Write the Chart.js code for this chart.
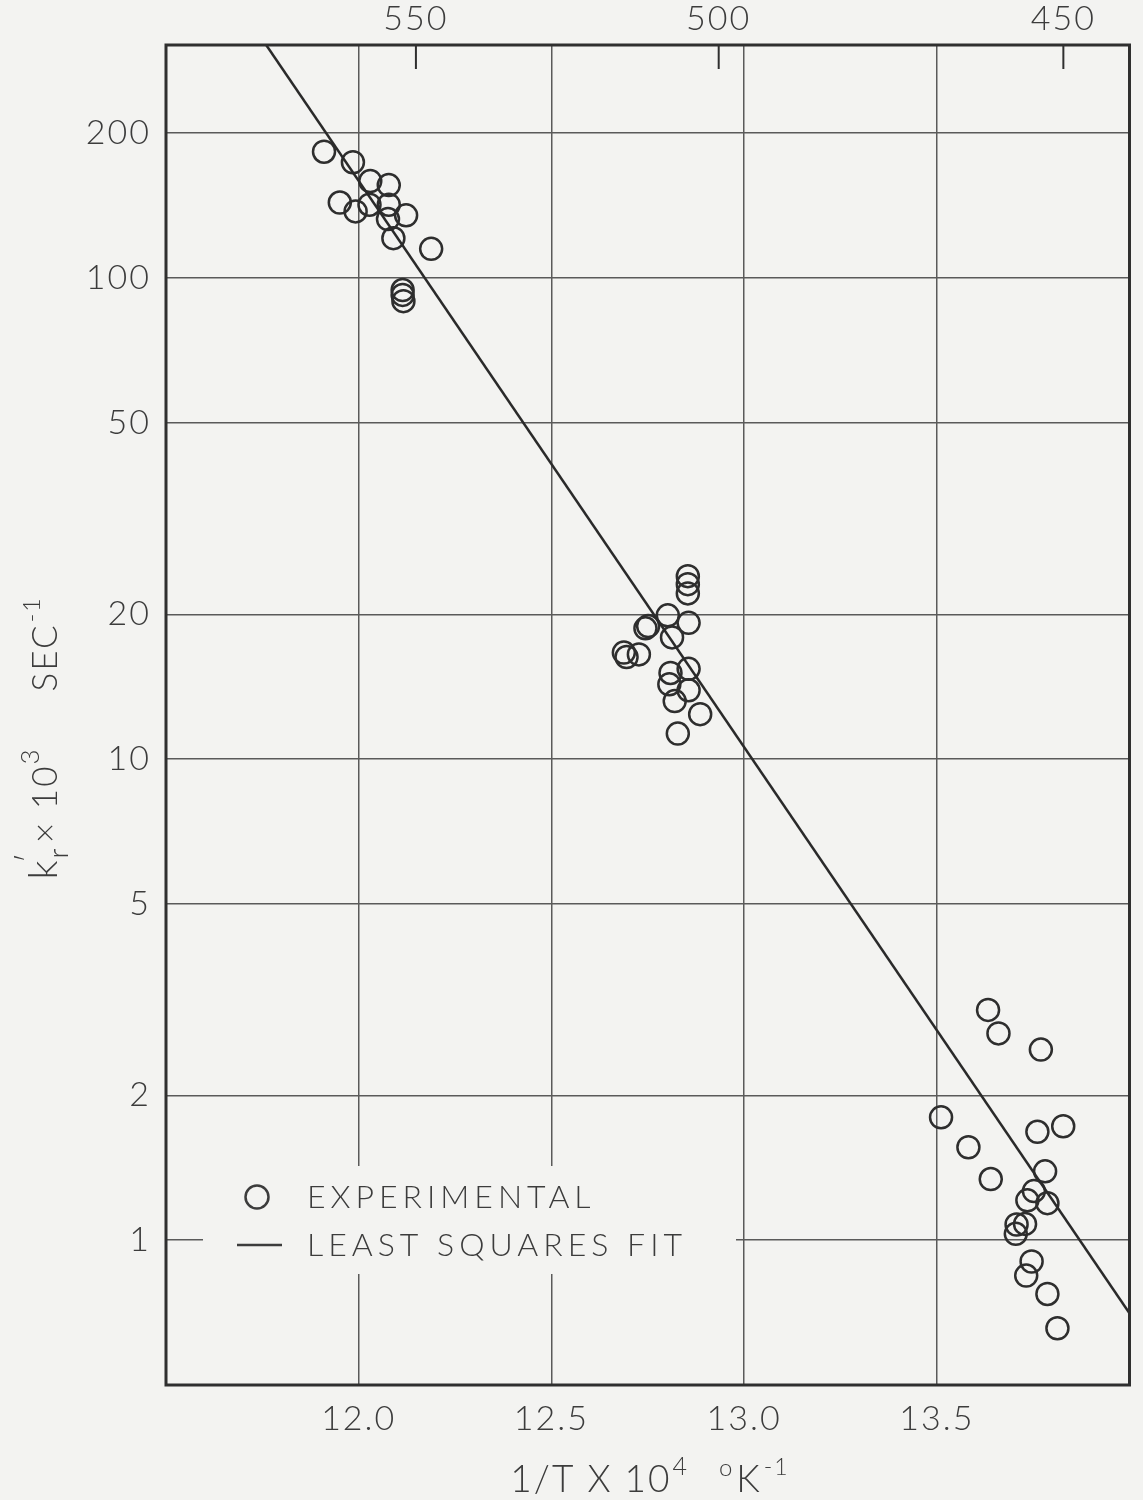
<!DOCTYPE html>
<html>
<head>
<meta charset="utf-8">
<script src="https://cdn.jsdelivr.net/npm/chart.js@4.4.1/dist/chart.umd.min.js"></script>
<style>
  html, body { margin: 0; padding: 0; background: #f3f3f1; }
  #wrap { width: 1143px; height: 1500px; }
</style>
</head>
<body>
<div id="wrap"><canvas id="arrhenius" width="1143" height="1500"></canvas></div>
<script>
// experimental points: 1/T x 10^4 and k'r x 10^3 (sec^-1)
const expX = [
    11.910, 11.985, 12.030, 12.078, 11.951, 11.992, 12.028, 12.078, 12.076, 12.123, 12.090, 12.188, 12.114, 12.114, 12.116,
    12.854, 12.854, 12.854, 12.802, 12.856, 12.751, 12.744, 12.813, 12.688, 12.695, 12.727, 12.809, 12.856, 12.806, 12.856, 12.820, 12.886, 12.828,
    13.633, 13.660, 13.770, 13.511, 13.582, 13.640, 13.761, 13.828, 13.781, 13.752, 13.735, 13.787, 13.707, 13.729, 13.705, 13.746, 13.732, 13.787, 13.813
];
const expY = [
    183, 174, 159, 156, 143.5, 137.5, 142, 142, 132.6, 135, 121, 115, 94.4, 92.2, 89.5,
    24.0, 23.1, 22.1, 19.9, 19.2, 18.9, 18.7, 17.9, 16.65, 16.3, 16.5, 15.1, 15.4, 14.3, 13.9, 13.2, 12.4, 11.3,
    3.01, 2.69, 2.49, 1.80, 1.56, 1.34, 1.68, 1.725, 1.39, 1.265, 1.21, 1.194, 1.078, 1.081, 1.031, 0.903, 0.844, 0.773, 0.656
];

// least squares fit, end points
const fitX = [11.76, 14.0];
const fitY = [305, 0.705];

const xTicks = [12.0, 12.5, 13.0, 13.5];
const yTicks = [1, 2, 5, 10, 20, 50, 100, 200];
const topTempC = [550, 500, 450];

const FONT = '"Lato", "DejaVu Sans", sans-serif';
const INK = '#3c3c3c';
const GRID = '#5a5a5a';
const PAPER = '#f3f3f1';

// draws a row of text pieces (sub/superscripts), centred on x
function drawParts(ctx, parts, x, y) {
    let total = 0;
    parts.forEach(p => {
        ctx.font = '300 ' + p.size + 'px ' + FONT;
        p.w = ctx.measureText(p.t).width + (p.gap || 0);
        total += p.w + (p.dx || 0);
    });
    let cx = x - total / 2;
    parts.forEach(p => {
        ctx.font = '300 ' + p.size + 'px ' + FONT;
        cx += (p.dx || 0);
        ctx.fillText(p.t, cx, y + (p.dy || 0));
        cx += p.w;
    });
}

const paperPlugin = {
    id: 'paper',
    beforeDraw(chart) {
        const ctx = chart.ctx;
        ctx.save();
        ctx.fillStyle = PAPER;
        ctx.fillRect(0, 0, chart.width, chart.height);
        ctx.restore();
        // wider lettering for the tick labels
        ctx.letterSpacing = '2px';
    },
    afterDraw(chart) {
        const ctx = chart.ctx;
        const a = chart.chartArea;
        const top = chart.scales.x2;
        ctx.save();

        // legend block, covers the grid behind it
        ctx.fillStyle = PAPER;
        ctx.fillRect(203, 1166, 533, 108);
        ctx.strokeStyle = INK;
        ctx.fillStyle = INK;
        ctx.lineWidth = 2.5;
        ctx.beginPath();
        ctx.arc(257, 1197, 11.5, 0, Math.PI * 2);
        ctx.stroke();
        ctx.beginPath();
        ctx.moveTo(237, 1245);
        ctx.lineTo(282, 1245);
        ctx.stroke();
        ctx.font = '300 32px ' + FONT;
        ctx.textBaseline = 'middle';
        ctx.textAlign = 'left';
        ctx.letterSpacing = '5px';
        ctx.fillText('EXPERIMENTAL', 307, 1198);
        ctx.fillText('LEAST SQUARES FIT', 307, 1246);
        ctx.letterSpacing = '2px';

        // frame
        ctx.strokeStyle = '#2f2f2f';
        ctx.lineWidth = 3;
        ctx.strokeRect(a.left, a.top, a.right - a.left, a.bottom - a.top);

        // inward ticks of the temperature scale
        ctx.lineWidth = 2;
        top.ticks.forEach(t => {
            const px = top.getPixelForValue(t.value);
            ctx.beginPath();
            ctx.moveTo(px, a.top);
            ctx.lineTo(px, a.top + 24);
            ctx.stroke();
        });

        // axis titles
        ctx.fillStyle = INK;
        ctx.textAlign = 'left';
        ctx.textBaseline = 'alphabetic';
        drawParts(ctx, [
            { t: '1/T X 10', size: 37, gap: 1 },
            { t: '4', size: 25, dy: -17, gap: 30 },
            { t: 'o', size: 24, dy: -16, gap: 2 },
            { t: 'K', size: 37, gap: 2 },
            { t: '-1', size: 23, dy: -17 }
        ], 650, 1492);

        ctx.translate(57, 738);
        ctx.rotate(-Math.PI / 2);
        drawParts(ctx, [
            { t: 'k', size: 40 },
            { t: 'r', size: 28, dy: 11, gap: 2 },
            { t: '\u2032', size: 34, dx: -19, dy: -16, gap: 8 },
            { t: '\u00d7 10', size: 35 },
            { t: '3', size: 26, dy: -18, gap: 56 },
            { t: 'SEC', size: 35, gap: 1 },
            { t: '-1', size: 23, dy: -17 }
        ], 0, 0);
        ctx.restore();
    }
};

new Chart(document.getElementById('arrhenius'), {
    type: 'scatter',
    data: {
        datasets: [
            {
                label: 'LEAST SQUARES FIT',
                data: fitX.map((x, i) => ({ x: x, y: fitY[i] })),
                showLine: true,
                pointRadius: 0,
                borderColor: '#2a2a2a',
                borderWidth: 2.5,
                xAxisID: 'x',
                yAxisID: 'y'
            },
            {
                label: 'EXPERIMENTAL',
                data: expX.map((x, i) => ({ x: x, y: expY[i] })),
                pointStyle: 'circle',
                pointRadius: 11,
                pointBorderWidth: 2.5,
                pointBorderColor: '#2e2e2e',
                pointBackgroundColor: 'rgba(0,0,0,0)',
                xAxisID: 'x',
                yAxisID: 'y'
            }
        ]
    },
    options: {
        responsive: false,
        animation: false,
        layout: { padding: { left: 0, right: 13, top: 0, bottom: 0 } },
        plugins: {
            legend: { display: false },
            tooltip: { enabled: false }
        },
        scales: {
            x: {
                type: 'linear',
                position: 'bottom',
                min: 11.5,
                max: 14.0,
                afterBuildTicks: s => { s.ticks = xTicks.map(v => ({ value: v })); },
                afterFit: s => { s.height = 115; },
                ticks: {
                    color: INK,
                    padding: 14,
                    font: { family: FONT, size: 34, weight: '300' },
                    callback: v => Number(v).toFixed(1)
                },
                grid: { color: GRID, lineWidth: 1.5, drawTicks: false },
                border: { display: false }
            },
            x2: {
                type: 'linear',
                position: 'top',
                min: 11.5,
                max: 14.0,
                afterBuildTicks: s => { s.ticks = topTempC.map(t => ({ value: 1e4 / (t + 273.15) })); },
                afterFit: s => { s.height = 45; },
                ticks: {
                    color: INK,
                    padding: 6,
                    font: { family: FONT, size: 34, weight: '300' },
                    callback: (v, i) => String(topTempC[i])
                },
                grid: { display: false, drawTicks: false },
                border: { display: false }
            },
            y: {
                type: 'logarithmic',
                min: 0.5,
                max: 305,
                afterBuildTicks: s => { s.ticks = yTicks.map(v => ({ value: v })); },
                afterFit: s => { s.width = 166; },
                ticks: {
                    color: INK,
                    padding: 15,
                    font: { family: FONT, size: 34, weight: '300' },
                    callback: v => String(v)
                },
                grid: { color: GRID, lineWidth: 1.5, drawTicks: false },
                border: { display: false }
            }
        }
    },
    plugins: [paperPlugin]
});
</script>
</body>
</html>
